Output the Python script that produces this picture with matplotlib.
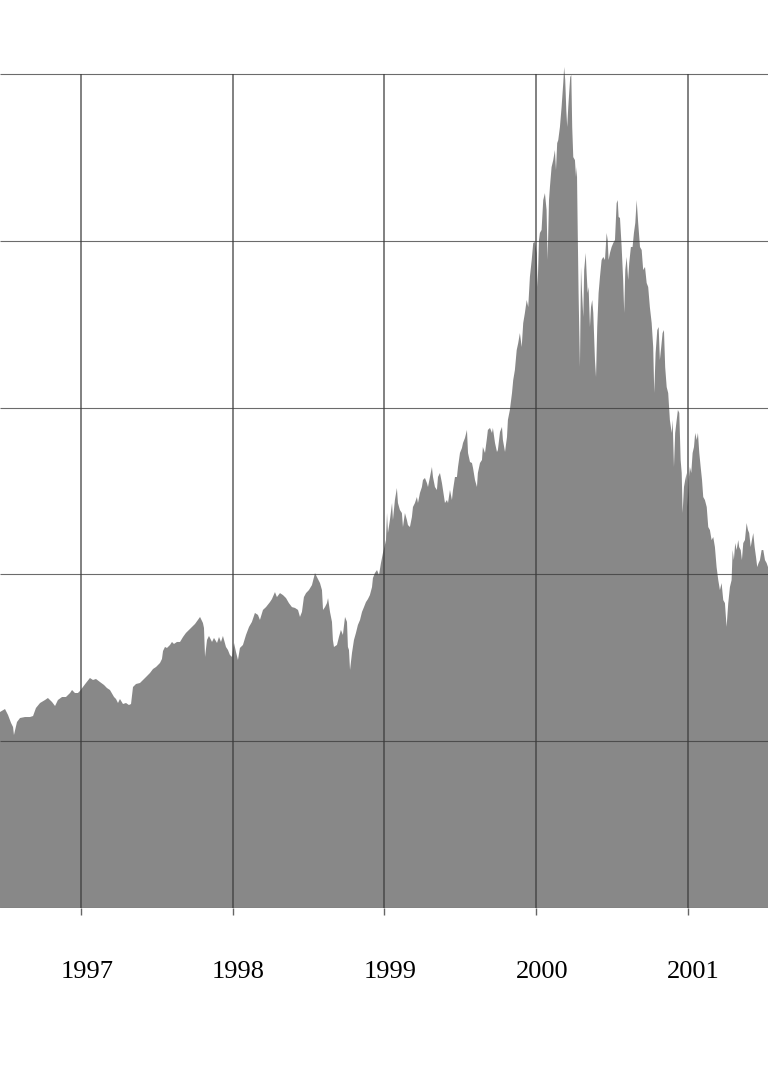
import matplotlib
matplotlib.use("Agg")
import matplotlib.pyplot as plt
import matplotlib.transforms as mtransforms

# Decimal-year dates and index values
dates = [
    1996.466, 1996.499, 1996.519, 1996.539, 1996.552, 1996.558, 1996.578, 1996.598, 1996.631, 1996.664,
    1996.684, 1996.703, 1996.730, 1996.763, 1996.782, 1996.809, 1996.829, 1996.848, 1996.875, 1996.901,
    1996.928, 1996.941, 1996.960, 1996.980, 1996.993, 1997.013, 1997.033, 1997.059, 1997.079, 1997.099,
    1997.125, 1997.152, 1997.171, 1997.191, 1997.218, 1997.231, 1997.244, 1997.257, 1997.277, 1997.297,
    1997.316, 1997.330, 1997.343, 1997.363, 1997.389, 1997.409, 1997.429, 1997.455, 1997.475, 1997.495,
    1997.521, 1997.534, 1997.541, 1997.554, 1997.567, 1997.587, 1997.600, 1997.613, 1997.633, 1997.653,
    1997.673, 1997.692, 1997.712, 1997.732, 1997.752, 1997.771, 1997.785, 1997.804, 1997.811, 1997.818,
    1997.831, 1997.844, 1997.864, 1997.877, 1997.897, 1997.910, 1997.923, 1997.936, 1997.956, 1997.969,
    1997.982, 1997.996, 1998.009, 1998.022, 1998.035, 1998.048, 1998.068, 1998.088, 1998.108, 1998.127,
    1998.147, 1998.167, 1998.180, 1998.200, 1998.220, 1998.246, 1998.259, 1998.279, 1998.292, 1998.312,
    1998.332, 1998.352, 1998.371, 1998.391, 1998.411, 1998.431, 1998.444, 1998.457, 1998.470, 1998.484,
    1998.503, 1998.523, 1998.543, 1998.556, 1998.576, 1998.589, 1998.596, 1998.609, 1998.622, 1998.629,
    1998.642, 1998.655, 1998.661, 1998.668, 1998.688, 1998.701, 1998.714, 1998.727, 1998.741, 1998.754,
    1998.760, 1998.767, 1998.774, 1998.787, 1998.800, 1998.813, 1998.826, 1998.840, 1998.853, 1998.866,
    1998.879, 1998.892, 1998.905, 1998.919, 1998.925, 1998.938, 1998.952, 1998.965, 1998.978, 1998.991,
    1999.004, 1999.011, 1999.018, 1999.024, 1999.037, 1999.051, 1999.057, 1999.070, 1999.083, 1999.090,
    1999.103, 1999.116, 1999.123, 1999.136, 1999.149, 1999.156, 1999.169, 1999.182, 1999.189, 1999.202,
    1999.215, 1999.222, 1999.235, 1999.248, 1999.255, 1999.268, 1999.281, 1999.288, 1999.301, 1999.314,
    1999.321, 1999.334, 1999.347, 1999.354, 1999.367, 1999.380, 1999.387, 1999.400, 1999.413, 1999.420,
    1999.433, 1999.446, 1999.453, 1999.466, 1999.479, 1999.486, 1999.499, 1999.512, 1999.519, 1999.532,
    1999.545, 1999.552, 1999.565, 1999.578, 1999.585, 1999.598, 1999.611, 1999.617, 1999.631, 1999.644,
    1999.650, 1999.664, 1999.677, 1999.683, 1999.697, 1999.710, 1999.716, 1999.730, 1999.743, 1999.749,
    1999.763, 1999.776, 1999.782, 1999.796, 1999.809, 1999.815, 1999.828, 1999.842, 1999.850, 1999.861,
    1999.873, 1999.883, 1999.894, 1999.906, 1999.916, 1999.927, 1999.939, 1999.949, 1999.960, 1999.972,
    1999.982, 1999.993, 2000.005, 2000.011, 2000.020, 2000.026, 2000.037, 2000.048, 2000.059, 2000.070,
    2000.077, 2000.086, 2000.092, 2000.103, 2000.114, 2000.125, 2000.132, 2000.140, 2000.147, 2000.158,
    2000.169, 2000.180, 2000.186, 2000.193, 2000.200, 2000.206, 2000.213, 2000.219, 2000.226, 2000.233,
    2000.239, 2000.246, 2000.257, 2000.264, 2000.270, 2000.275, 2000.281, 2000.290, 2000.297, 2000.303,
    2000.312, 2000.318, 2000.328, 2000.334, 2000.341, 2000.347, 2000.356, 2000.363, 2000.371, 2000.378,
    2000.389, 2000.396, 2000.404, 2000.413, 2000.422, 2000.433, 2000.444, 2000.455, 2000.466, 2000.473,
    2000.479, 2000.488, 2000.499, 2000.510, 2000.521, 2000.532, 2000.539, 2000.545, 2000.554, 2000.565,
    2000.575, 2000.582, 2000.589, 2000.598, 2000.608, 2000.615, 2000.626, 2000.637, 2000.646, 2000.655,
    2000.664, 2000.674, 2000.686, 2000.697, 2000.707, 2000.719, 2000.730, 2000.740, 2000.751, 2000.763,
    2000.773, 2000.780, 2000.789, 2000.800, 2000.809, 2000.817, 2000.826, 2000.835, 2000.844, 2000.852,
    2000.862, 2000.872, 2000.883, 2000.895, 2000.901, 2000.910, 2000.918, 2000.928, 2000.936, 2000.945,
    2000.954, 2000.961, 2000.967, 2000.976, 2000.984, 2000.994, 2001.000, 2001.007, 2001.015, 2001.024,
    2001.033, 2001.042, 2001.050, 2001.060, 2001.068, 2001.077, 2001.086, 2001.095, 2001.103, 2001.114,
    2001.126, 2001.136, 2001.147, 2001.158, 2001.169, 2001.180, 2001.191, 2001.202, 2001.213, 2001.224,
    2001.235, 2001.246, 2001.257, 2001.268, 2001.279, 2001.290, 2001.297, 2001.305, 2001.314, 2001.323,
    2001.334, 2001.340, 2001.350, 2001.358, 2001.367, 2001.378, 2001.389, 2001.398, 2001.406, 2001.416,
    2001.424, 2001.433, 2001.442, 2001.451, 2001.459, 2001.468, 2001.477, 2001.488, 2001.499, 2001.510,
    2001.521, 2001.530,
]

values = [
    1175, 1193, 1157, 1109, 1085, 1037, 1115, 1139, 1145, 1145,
    1151, 1199, 1229, 1247, 1259, 1235, 1211, 1247, 1265, 1265,
    1289, 1307, 1289, 1289, 1301, 1325, 1349, 1379, 1367, 1373,
    1355, 1337, 1319, 1307, 1265, 1253, 1229, 1253, 1223, 1229,
    1217, 1223, 1325, 1343, 1349, 1367, 1385, 1409, 1433, 1445,
    1469, 1493, 1541, 1565, 1559, 1577, 1595, 1583, 1595, 1595,
    1625, 1649, 1667, 1685, 1703, 1727, 1745, 1709, 1679, 1505,
    1607, 1631, 1595, 1619, 1589, 1625, 1595, 1631, 1565, 1547,
    1517, 1505, 1589, 1535, 1487, 1559, 1577, 1637, 1685, 1715,
    1769, 1757, 1727, 1787, 1804, 1834, 1852, 1894, 1864, 1888,
    1876, 1858, 1828, 1804, 1799, 1787, 1745, 1775, 1864, 1888,
    1906, 1936, 2008, 1984, 1948, 1906, 1787, 1804, 1828, 1858,
    1775, 1715, 1607, 1565, 1577, 1625, 1667, 1637, 1745, 1715,
    1565, 1547, 1427, 1529, 1607, 1649, 1697, 1727, 1775, 1804,
    1834, 1852, 1876, 1924, 1978, 2008, 2026, 1996, 2068, 2128,
    2176, 2206, 2368, 2248, 2326, 2428, 2326, 2446, 2518, 2428,
    2386, 2368, 2284, 2368, 2326, 2296, 2284, 2344, 2404, 2428,
    2464, 2428, 2488, 2524, 2566, 2578, 2548, 2524, 2584, 2644,
    2584, 2524, 2506, 2584, 2608, 2548, 2506, 2428, 2446, 2428,
    2506, 2446, 2506, 2584, 2584, 2644, 2728, 2758, 2788, 2818,
    2866, 2728, 2674, 2668, 2638, 2566, 2524, 2608, 2668, 2686,
    2764, 2728, 2818, 2866, 2878, 2848, 2878, 2788, 2734, 2746,
    2854, 2884, 2806, 2734, 2824, 2926, 2986, 3087, 3165, 3225,
    3345, 3387, 3447, 3363, 3507, 3567, 3645, 3603, 3783, 3885,
    3987, 3993, 3927, 3723, 4005, 4047, 4065, 4244, 4286, 4185,
    3885, 4244, 4322, 4442, 4484, 4544, 4424, 4586, 4604, 4682,
    4802, 4946, 5042, 4964, 4784, 4682, 4802, 4886, 4982, 4994,
    4682, 4502, 4484, 4382, 4442, 4083, 3687, 3243, 3843, 3705,
    3543, 3825, 3927, 3807, 3687, 3723, 3483, 3603, 3645, 3567,
    3285, 3183, 3483, 3687, 3783, 3885, 3903, 3885, 4047, 4005,
    3885, 3927, 3963, 3987, 4005, 4226, 4244, 4143, 4137, 3963,
    3765, 3567, 3825, 3903, 3765, 3867, 3963, 3963, 4047, 4107,
    4244, 4107, 3963, 3945, 3825, 3843, 3747, 3723, 3603, 3507,
    3363, 3087, 3327, 3465, 3483, 3285, 3363, 3447, 3465, 3243,
    3123, 3087, 2926, 2848, 2926, 2644, 2848, 2926, 2986, 2968,
    2686, 2608, 2368, 2524, 2566, 2608, 2404, 2566, 2644, 2608,
    2728, 2764, 2848, 2806, 2848, 2728, 2644, 2566, 2464, 2446,
    2404, 2284, 2266, 2206, 2224, 2164, 2044, 1966, 1906, 1948,
    1846, 1828, 1685, 1828, 1924, 1966, 2146, 2086, 2188, 2146,
    2206, 2164, 2146, 2086, 2188, 2206, 2308, 2266, 2248, 2164,
    2206, 2248, 2164, 2104, 2044, 2068, 2086, 2146, 2146, 2086,
    2068, 2044,
]

year_ticks = [1997, 1998, 1999, 2000, 2001]
year_labels = ["1997", "1998", "1999", "2000", "2001"]
value_grid = [0, 1000, 2000, 3000, 4000, 5000]

W, H = 768, 1075
fig = plt.figure(figsize=(W / 100, H / 100), dpi=100)
fig.patch.set_facecolor("white")

ax_bottom_px, ax_top_px = 908, 40
ax = fig.add_axes([0, 1 - ax_bottom_px / H, 1, (ax_bottom_px - ax_top_px) / H])
ax.fill_between(dates, values, 0, color="#888888", linewidth=0, zorder=1)

ax.set_xlim(1996.466, 2001.530)
ax.set_ylim(0, 5204)

ax.hlines(value_grid, 1996.466, 2001.530, color="#3a3a3a", linewidth=0.8, alpha=0.75, zorder=3)
ax.vlines(year_ticks, 0, max(value_grid), color="#3a3a3a", linewidth=1.2, alpha=0.75, zorder=3)

ax.set_xticks(year_ticks)
ax.set_xticklabels(year_labels, family="Liberation Serif", fontsize=19, color="black")
ax.tick_params(axis="x", direction="out", length=5, width=1.0, color="#666666", pad=33)
ax.set_yticks([])
for s in ax.spines.values():
    s.set_visible(False)
ax.patch.set_alpha(0)

offset = mtransforms.ScaledTranslation(6 / 100, 0, fig.dpi_scale_trans)
for lbl in ax.get_xticklabels():
    lbl.set_transform(lbl.get_transform() + offset)

fig.savefig("out.png", dpi=100, facecolor="white")
